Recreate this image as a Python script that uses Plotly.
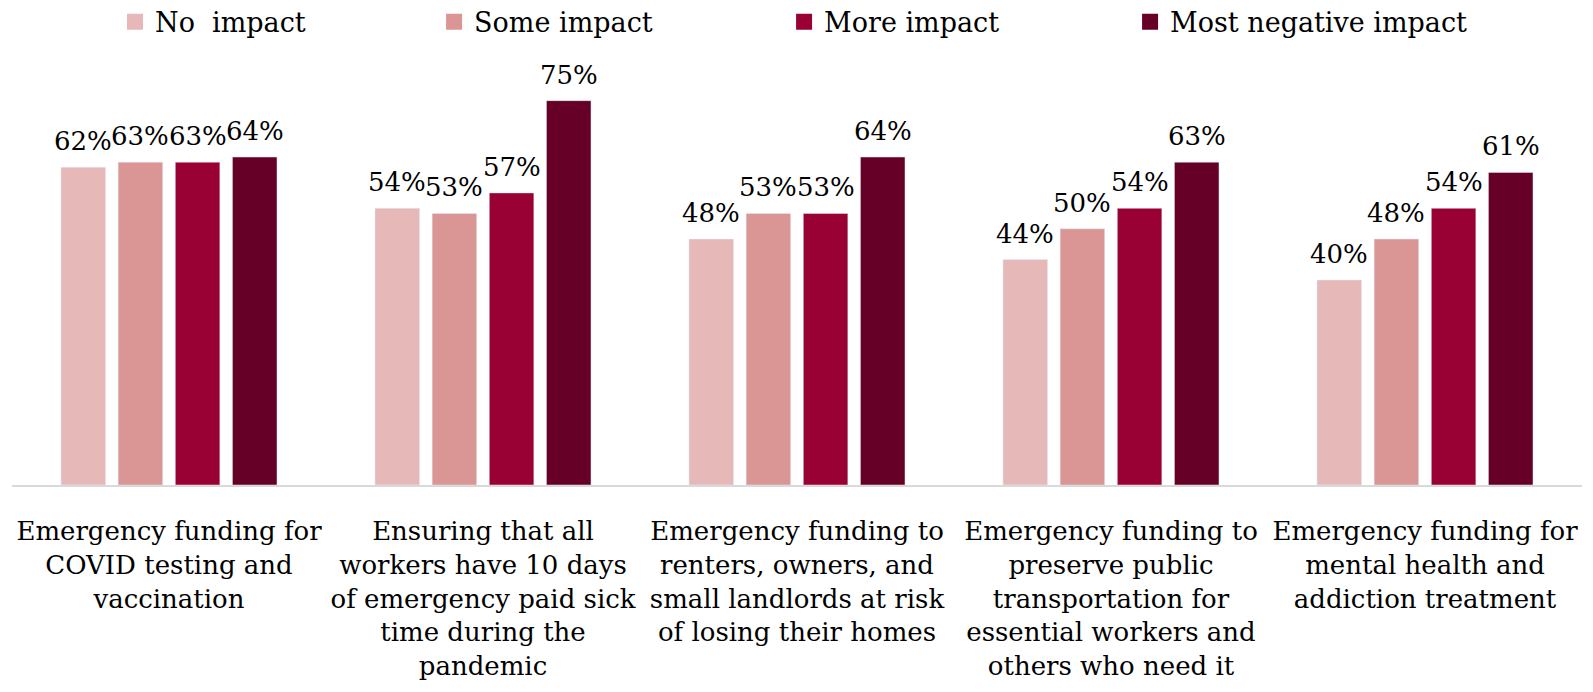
import plotly.graph_objects as go

categories = [
    "Emergency funding for<br>COVID testing and<br>vaccination",
    "Ensuring that all<br>workers have 10 days<br>of emergency paid sick<br>time during the<br>pandemic",
    "Emergency funding to<br>renters, owners, and<br>small landlords at risk<br>of losing their homes",
    "Emergency funding to<br>preserve public<br>transportation for<br>essential workers and<br>others who need it",
    "Emergency funding for<br>mental health and<br>addiction treatment",
]
series_names = ["No  impact", "Some impact", "More impact", "Most negative impact"]
no_impact = [62, 54, 48, 44, 40]
some_impact = [63, 53, 53, 50, 48]
more_impact = [63, 57, 53, 54, 54]
most_negative = [64, 75, 64, 63, 61]
colors = ["#E6B9B8", "#D99694", "#990033", "#660026"]

FONT = "DejaVu Serif"
BARGAP = 0.272
values = [no_impact, some_impact, more_impact, most_negative]
legend_ids = ["legend", "legend2", "legend3", "legend4"]
legend_x = [0.0722, 0.2725, 0.4922, 0.7094]

fig = go.Figure()
n_series = len(values)
slot = (1 - BARGAP) / n_series
for j, (name, vals, col, lid) in enumerate(zip(series_names, values, colors, legend_ids)):
    fig.add_trace(go.Bar(
        x=categories, y=vals, name=name, marker_color=col,
        cliponaxis=False, showlegend=False,
    ))
    # square legend swatch
    fig.add_trace(go.Scatter(
        x=[None], y=[None], mode="markers", name=name, legend=lid,
        marker=dict(symbol="square", size=16, color=col),
    ))
    # percentage labels above each bar of this series
    offset = (j - (n_series - 1) / 2) * slot
    for i, v in enumerate(vals):
        fig.add_annotation(
            x=i + offset, y=v, text=f"{v}%", showarrow=False,
            yanchor="bottom", xanchor="center", yshift=9,
            font=dict(family=FONT, size=26, color="#000000"),
        )

legend_style = dict(
    orientation="h", y=0.968, yref="container", yanchor="middle",
    xref="container", xanchor="left", itemwidth=30,
    font=dict(family=FONT, size=27),
)

fig.update_layout(
    width=1593, height=692,
    paper_bgcolor="white", plot_bgcolor="white",
    margin=dict(l=12, r=11, t=75, b=207),
    barmode="group", bargap=BARGAP, bargroupgap=0.22,
    font=dict(family=FONT, size=26, color="#000000"),
    xaxis=dict(showline=True, linecolor="#D9D9D9", linewidth=1.5,
               tickfont=dict(family=FONT, size=26), ticks="",
               tickangle=0, automargin=False, ticklabelstandoff=22),
    yaxis=dict(range=[0, 80], visible=False, showgrid=False),
)
for lid, lx in zip(legend_ids, legend_x):
    fig.update_layout({lid: dict(legend_style, x=lx)})

fig.write_html("out.html")
